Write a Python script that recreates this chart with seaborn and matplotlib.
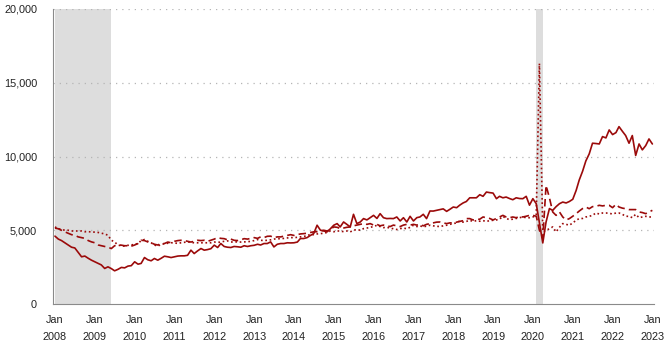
import matplotlib
matplotlib.use("Agg")
import matplotlib.pyplot as plt
import matplotlib.ticker as mticker
import seaborn as sns
import pandas as pd

# monthly values, Jan 2008 - Jan 2023 (thousands)
openings = [
    4600, 4400, 4300, 4150, 4000, 3850, 3800, 3500, 3200, 3250, 3100, 2970,  # 2008
    2860, 2750, 2650, 2410, 2520, 2400, 2250, 2350, 2480, 2450, 2570, 2600,  # 2009
    2860, 2700, 2750, 3150, 3000, 2930, 3085, 2970, 3100, 3240, 3200, 3150,  # 2010
    3200, 3250, 3265, 3265, 3300, 3650, 3420, 3600, 3760, 3650, 3690, 3750,  # 2011
    3990, 3830, 4100, 3900, 3850, 3830, 3900, 3880, 3850, 3950, 3900, 3950,  # 2012
    3980, 4050, 4000, 4100, 4100, 4210, 3870, 4050, 4100, 4100, 4150, 4140,  # 2013
    4150, 4200, 4440, 4440, 4500, 4650, 4770, 5340, 5000, 4950, 4890, 5100,  # 2014
    5340, 5450, 5225, 5560, 5400, 5225, 6080, 5450, 5560, 5790, 5700, 5855,  # 2015
    6010, 5800, 6125, 5850, 5790, 5800, 5790, 5900, 5630, 5850, 5560, 5945,  # 2016
    5630, 5855, 5900, 6080, 5790, 6305, 6300, 6350, 6400, 6450, 6280, 6420,  # 2017
    6575, 6530, 6700, 6850, 6950, 7200, 7200, 7200, 7410, 7300, 7590, 7550,  # 2018
    7520, 7140, 7300, 7200, 7250, 7150, 7070, 7200, 7150, 7140, 7300, 6700,  # 2019
    7140, 6800, 5500, 4140, 5560, 6470, 6350, 6600, 6800, 6910, 6850, 6950,  # 2020
    7100, 7700, 8400, 9000, 9700, 10180, 10900, 10880, 10850, 11350, 11260, 11800,  # 2021
    11485, 11620, 12025, 11710, 11420, 10900, 11420, 10070, 10850, 10450, 10740, 11190,  # 2022
    10850,  # 2023
]
hires = [
    5150, 5100, 5000, 4890, 4800, 4700, 4660, 4550, 4500, 4450, 4300, 4210,
    4150, 4000, 3950, 3900, 3850, 3760, 3950, 4000, 3990, 3950, 3950, 3920,
    4000, 4100, 4320, 4300, 4210, 4150, 4050, 4000, 4100, 4100, 4200, 4150,
    4250, 4300, 4320, 4300, 4250, 4200, 4250, 4320, 4300, 4320, 4250, 4320,
    4400, 4500, 4450, 4430, 4350, 4400, 4320, 4300, 4350, 4430, 4400, 4450,
    4500, 4450, 4550, 4500, 4590, 4600, 4500, 4550, 4550, 4600, 4650, 4700,
    4650, 4700, 4750, 4770, 4800, 4850, 4890, 4900, 4950, 5000, 4950, 5050,
    5225, 5200, 5110, 5150, 5200, 5225, 5300, 5350, 5400, 5450, 5400, 5450,
    5350, 5400, 5300, 5350, 5300, 5250, 5350, 5300, 5250, 5350, 5400, 5350,
    5400, 5350, 5400, 5300, 5400, 5450, 5500, 5550, 5560, 5500, 5450, 5500,
    5500, 5550, 5600, 5650, 5790, 5790, 5700, 5720, 5750, 5900, 5850, 5800,
    5700, 5800, 5900, 6010, 5900, 5850, 5900, 5850, 5945, 5900, 5950, 6010,
    6010, 5950, 5000, 4450, 8040, 7200, 6240, 6010, 6240, 5900, 5700, 5790,
    5950, 6125, 6300, 6470, 6575, 6460, 6600, 6620, 6690, 6650, 6690, 6690,
    6530, 6760, 6575, 6500, 6460, 6400, 6400, 6400, 6240, 6200, 6125, 6240,
    6350,
]
separations = [
    5225, 5100, 5050, 5000, 5000, 4950, 4950, 4950, 4950, 4900, 4900, 4890,
    4870, 4850, 4800, 4750, 4660, 4320, 4210, 3990, 3950, 3920, 3980, 4000,
    4050, 4100, 4300, 4370, 4250, 4150, 4000, 3920, 4050, 4080, 4120, 4150,
    4150, 4100, 4150, 4180, 4210, 4180, 4150, 4150, 4150, 4150, 4150, 4150,
    4200, 4180, 4200, 4250, 4280, 4200, 4210, 4210, 4200, 4210, 4220, 4250,
    4300, 4370, 4320, 4300, 4320, 4350, 4400, 4430, 4420, 4450, 4480, 4500,
    4500, 4520, 4550, 4590, 4620, 4730, 4700, 4750, 4770, 4800, 4850, 4950,
    4900, 4950, 4950, 4900, 4950, 4890, 5000, 5050, 5000, 5110, 5150, 5200,
    5250, 5340, 5250, 5180, 5200, 5150, 5100, 5050, 5110, 5150, 5100, 5200,
    5340, 5250, 5300, 5225, 5280, 5340, 5300, 5270, 5250, 5300, 5340, 5400,
    5450, 5500, 5630, 5550, 5600, 5675, 5600, 5650, 5610, 5650, 5600, 5650,
    5675, 5700, 5750, 5945, 5800, 5720, 5750, 5800, 5850, 5900, 5850, 5850,
    5900, 6010, 16300, 4900, 5000, 5100, 5225, 4890, 5200, 5450, 5400, 5340,
    5500, 5675, 5790, 5800, 5900, 5945, 6010, 6170, 6100, 6170, 6170, 6150,
    6100, 6170, 6170, 6080, 5945, 5945, 5855, 6080, 5855, 5900, 5945, 5900,
    5900,
]
dates = pd.date_range("2008-01-01", "2023-01-01", freq="MS")
years = list(range(2008, 2024))
recessions = [("2008-01-01", "2009-06-01"), ("2020-02-01", "2020-04-01")]

df = pd.concat([
    pd.DataFrame({"date": dates, "value": openings, "series": "Job openings"}),
    pd.DataFrame({"date": dates, "value": hires, "series": "Hires"}),
    pd.DataFrame({"date": dates, "value": separations, "series": "Separations"}),
])

sns.set_style("white")
plt.rcParams['font.family'] = ['Liberation Sans', 'DejaVu Sans']

fig = plt.figure(figsize=(6.69, 3.52), dpi=100)
ax = fig.add_axes([53 / 669, 1 - 304 / 352, 601 / 669, 295 / 352])

red = "#9b0a0a"
for start, end in recessions:
    ax.axvspan(pd.Timestamp(start), pd.Timestamp(end), color="#dddddd", lw=0, zorder=0)

sns.lineplot(data=df, x="date", y="value", style="series",
             dashes={"Job openings": "", "Hires": (4.5, 2.5), "Separations": (1, 1.6)},
             color=red, linewidth=1.2, estimator=None, legend=False, ax=ax, zorder=3)

ax.set_xlim(pd.Timestamp("2007-12-14"), pd.Timestamp("2023-01-16"))
ax.set_ylim(0, 20000)
ax.set_yticks([0, 5000, 10000, 15000, 20000])
ax.yaxis.set_major_formatter(mticker.StrMethodFormatter("{x:,.0f}"))
ax.set_xticks([pd.Timestamp(f"{y}-01-01") for y in years])
ax.set_xticklabels([f"Jan\n{y}" for y in years], linespacing=1.9)
ax.set_xlabel("")
ax.set_ylabel("")

for y in [5000, 10000, 15000, 20000]:
    ax.axhline(y, color="#b5b5b5", lw=0.9, ls=(0, (1, 4)), zorder=1)

for s in ["top", "right"]:
    ax.spines[s].set_visible(False)
ax.spines["left"].set_color("#8a8a8a")
ax.spines["bottom"].set_color("#8a8a8a")
ax.tick_params(axis="y", length=7, width=1, color="#c5d3e6", pad=4.5,
               labelsize=7.8, labelcolor="#222222")
ax.tick_params(axis="x", length=0, pad=8, labelsize=7.8, labelcolor="#222222")

fig.savefig("out.png", dpi=100)
